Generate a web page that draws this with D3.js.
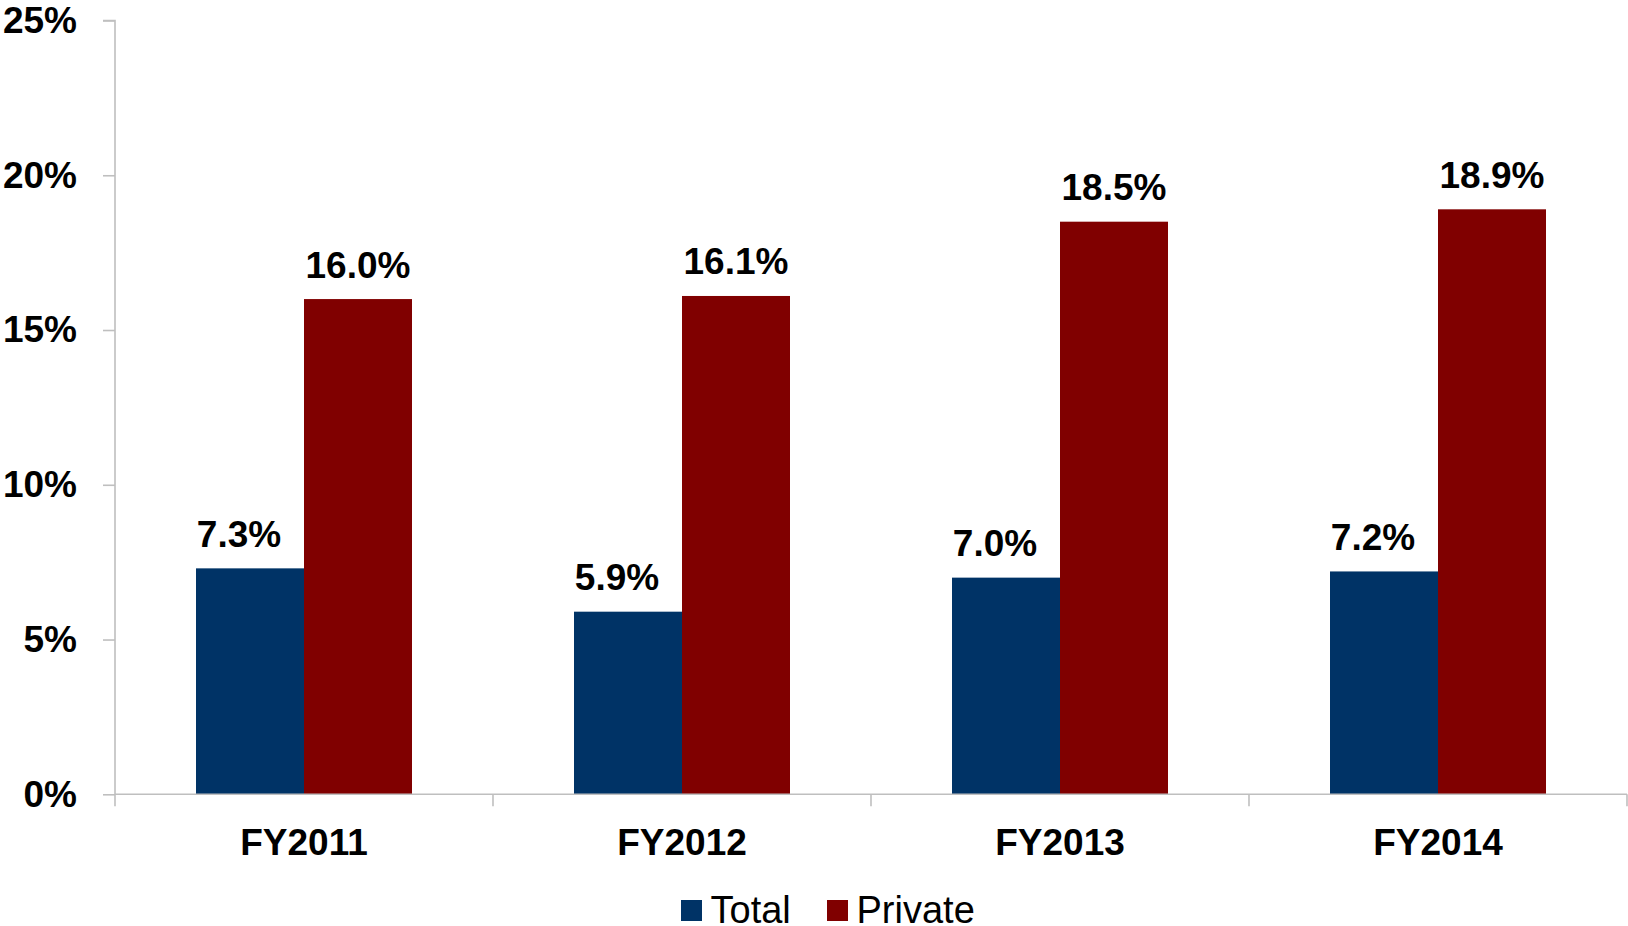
<!DOCTYPE html>
<html>
<head>
<meta charset="utf-8">
<script src="https://cdn.jsdelivr.net/npm/d3@7"></script>
<style>
  html, body { margin: 0; padding: 0; background: #fff; }
  svg { display: block; font-family: "Liberation Sans", Arial, Helvetica, sans-serif; }
</style>
</head>
<body>
<svg id="chart" width="1628" height="926"></svg>
<script>
// Fiscal years and the two series (percent)
const categories = ["FY2011", "FY2012", "FY2013", "FY2014"];
const seriesNames = ["Total", "Private"];
const totalValues = [7.3, 5.9, 7.0, 7.2];
const privateValues = [16.0, 16.1, 18.5, 18.9];
const yTicks = [0, 5, 10, 15, 20, 25];

(function () {
  const colors = { Total: "#003366", Private: "#800000" };
  const seriesValues = { Total: totalValues, Private: privateValues };

  const svg = d3.select("#chart");
  const plotLeft = 115, plotRight = 1627, plotTop = 20.5, plotBottom = 794.3;
  const pad = 0.4286;

  const x = d3.scaleBand().domain(categories).range([plotLeft, plotRight])
    .paddingInner(pad).paddingOuter(pad / 2);
  const xs = d3.scaleBand().domain(seriesNames).range([0, x.bandwidth()]);
  const y = d3.scaleLinear().domain([0, 25]).range([plotBottom, plotTop]);

  const axisColor = "#bfbfbf";

  // Bars
  seriesNames.forEach(s => {
    svg.append("g").selectAll("rect")
      .data(categories.map((c, i) => ({ c, v: seriesValues[s][i] })))
      .join("rect")
      .attr("x", d => x(d.c) + xs(s))
      .attr("y", d => y(d.v))
      .attr("width", xs.bandwidth())
      .attr("height", d => y(0) - y(d.v))
      .attr("fill", colors[s]);
  });

  // Value labels
  const labelShift = { Total: -11, Private: 0 };
  seriesNames.forEach(s => {
    svg.append("g").selectAll("text")
      .data(categories.map((c, i) => ({ c, v: seriesValues[s][i] })))
      .join("text")
      .attr("x", d => x(d.c) + xs(s) + xs.bandwidth() / 2 + labelShift[s])
      .attr("y", d => y(d.v) - 21.5)
      .attr("text-anchor", "middle")
      .attr("font-size", 37)
      .attr("font-weight", "bold")
      .attr("fill", "#000")
      .text(d => d.v.toFixed(1) + "%");
  });

  // Y axis
  const yAxis = svg.append("g")
    .attr("transform", `translate(${plotLeft},0)`)
    .call(d3.axisLeft(y).tickValues(yTicks).tickSize(12).tickPadding(26)
      .tickFormat(d => d + "%"));
  yAxis.select(".domain").attr("stroke", axisColor).attr("stroke-width", 1.6)
    .attr("d", `M-12,${plotTop}H0V${plotBottom}`);
  yAxis.selectAll(".tick line").attr("stroke", axisColor).attr("stroke-width", 1.6);
  yAxis.selectAll(".tick text")
    .attr("font-size", 37).attr("font-weight", "bold").attr("fill", "#000")
    .attr("font-family", "'Liberation Sans', Arial, sans-serif");

  // X axis with ticks at category boundaries
  const gap = (x.step() - x.bandwidth()) / 2;
  const bounds = categories.map(c => x(c) - gap).concat([plotRight]);
  const xAxis = svg.append("g");
  xAxis.append("line")
    .attr("x1", plotLeft).attr("x2", plotRight).attr("y1", plotBottom).attr("y2", plotBottom)
    .attr("stroke", axisColor).attr("stroke-width", 1.6);
  xAxis.selectAll("line.tick").data(bounds).join("line")
    .attr("class", "tick")
    .attr("x1", d => d).attr("x2", d => d)
    .attr("y1", plotBottom).attr("y2", plotBottom + 12)
    .attr("stroke", axisColor).attr("stroke-width", 1.6);
  xAxis.selectAll("text").data(categories).join("text")
    .attr("x", d => x(d) + x.bandwidth() / 2)
    .attr("y", 855)
    .attr("text-anchor", "middle")
    .attr("font-size", 37).attr("font-weight", "bold").attr("fill", "#000")
    .text(d => d);

  // Legend
  const legendItems = [
    { name: "Total", sx: 681, tx: 710.5 },
    { name: "Private", sx: 827, tx: 856.5 }
  ];
  const legend = svg.append("g");
  legendItems.forEach(it => {
    legend.append("rect")
      .attr("x", it.sx).attr("y", 900).attr("width", 21).attr("height", 21)
      .attr("fill", colors[it.name]);
    legend.append("text")
      .attr("x", it.tx).attr("y", 922.5)
      .attr("font-size", 38).attr("fill", "#000")
      .text(it.name);
  });
})();
</script>
</body>
</html>
